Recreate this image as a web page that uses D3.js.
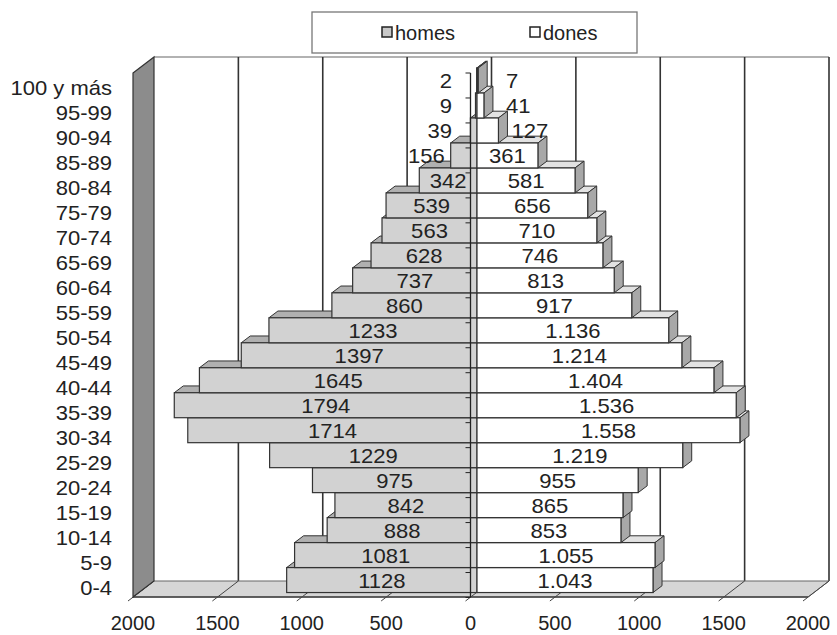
<!DOCTYPE html>
<html>
<head>
<meta charset="utf-8">
<script src="https://cdn.jsdelivr.net/npm/d3@7"></script>
<style>
  body { margin: 0; background: #fff; }
  svg text { font-family: "Liberation Sans", Arial, sans-serif; fill: #222; }
</style>
</head>
<body>
<svg id="chart" width="837" height="635"></svg>
<script>
// age groups, top to bottom
const categories = ["100 y más","95-99","90-94","85-89","80-84","75-79","70-74","65-69","60-64",
  "55-59","50-54","45-49","40-44","35-39","30-34","25-29","20-24","15-19","10-14","5-9","0-4"];
const homes = [2,9,39,156,342,539,563,628,737,860,1233,1397,1645,1794,1714,1229,975,842,888,1081,1128];
const dones = [7,41,127,361,581,656,710,746,813,917,1136,1214,1404,1536,1558,1219,955,865,853,1055,1043];
const seriesNames = ["homes","dones"];
const xTicks = [-2000,-1500,-1000,-500,0,500,1000,1500,2000];

const svg = d3.select("#chart");
const locale = d3.formatLocale({decimal:",", thousands:".", grouping:[3], currency:["","€"]});
const fmtDones = locale.format(",");

// front plane of the 3d box
const x = d3.scaleLinear().domain([-2000,2000]).range([133,808]);
const y = d3.scaleBand().domain(categories).range([73,597.5]).padding(0);
const bw = y.bandwidth();
const depth = {x:21, y:-16};           // full wall depth
const f0 = 0.31;                        // bars front position in depth
const side = {x:9, y:-6.8};             // bar thickness in depth
const bo = {x:depth.x*f0, y:depth.y*f0};
const yFront = 597;

function poly(pts) { return "M" + pts.map(p => p.join(",")).join("L") + "Z"; }

// walls
const wallL = x(-2000)+depth.x, wallR = x(2000)+depth.x, wallT = 73+depth.y, wallB = yFront+depth.y;
svg.append("rect").attr("x",wallL).attr("y",wallT).attr("width",wallR-wallL).attr("height",wallB-wallT)
   .attr("fill","#fff");
svg.append("line").attr("x1",wallL).attr("x2",wallR).attr("y1",wallT).attr("y2",wallT)
   .attr("stroke","#999").attr("stroke-width",1.5);
svg.selectAll(".grid").data(xTicks.slice(1)).enter().append("line")
   .attr("class","grid")
   .attr("x1",d => x(d)+depth.x).attr("x2",d => x(d)+depth.x)
   .attr("y1",wallT).attr("y2",wallB)
   .attr("stroke","#333").attr("stroke-width",1.6);

// floor
svg.append("path")
   .attr("d",poly([[x(-2000),yFront],[x(2000),yFront],[x(2000)+depth.x,yFront+depth.y],[x(-2000)+depth.x,yFront+depth.y]]))
   .attr("fill","#d6d6d6").attr("stroke","#666").attr("stroke-width",1);
svg.selectAll(".floorgrid").data(xTicks).enter().append("line")
   .attr("class","floorgrid")
   .attr("x1",d => x(d)-5).attr("y1",yFront+4)
   .attr("x2",d => x(d)+depth.x).attr("y2",yFront+depth.y)
   .attr("stroke","#444").attr("stroke-width",1);
svg.append("line").attr("x1",x(-2000)).attr("x2",x(2000)).attr("y1",yFront).attr("y2",yFront)
   .attr("stroke","#444").attr("stroke-width",1.5);

// left wall
svg.append("path")
   .attr("d",poly([[x(-2000),73],[x(-2000)+depth.x,wallT],[x(-2000)+depth.x,wallB],[x(-2000),yFront]]))
   .attr("fill","#8c8c8c").attr("stroke","#333").attr("stroke-width",1.2);

// bars, drawn from bottom row to top row
const rows = categories.map((c,i) => ({c, h:homes[i], d:dones[i]})).reverse();
const barG = svg.append("g");
function drawBar(g, a, b, c, front, top, sideFill, withSide) {
  const x0 = x(a)+bo.x, x1 = x(b)+bo.x, yt = y(c)+bo.y, yb = yt+bw;
  g.append("path").attr("d",poly([[x0,yt],[x1,yt],[x1+side.x,yt+side.y],[x0+side.x,yt+side.y]]))
   .attr("fill",top).attr("stroke","#333").attr("stroke-width",1);
  if(withSide) {
    g.append("path").attr("d",poly([[x1,yt],[x1+side.x,yt+side.y],[x1+side.x,yb+side.y],[x1,yb]]))
     .attr("fill",sideFill).attr("stroke","#333").attr("stroke-width",1);
  }
  g.append("rect").attr("x",x0).attr("y",yt).attr("width",Math.max(0,x1-x0)).attr("height",bw)
   .attr("fill",front).attr("stroke","#333").attr("stroke-width",1.2);
}
rows.forEach(r => {
  const g = barG.append("g");
  drawBar(g,-r.h,0,r.c,"#d2d2d2","#b0b0b0","#999",false);
  drawBar(g,0,r.d,r.c,"#ffffff","#e2e2e2","#a8a8a8",true);
});

// vertical axis with ticks
const ax = x(0);
svg.append("line").attr("x1",ax).attr("x2",ax).attr("y1",73).attr("y2",yFront)
   .attr("stroke","#222").attr("stroke-width",1.3);
const bounds = categories.map(c => y(c)).concat([y(categories[categories.length-1])+bw]);
svg.selectAll(".ytick").data(bounds).enter().append("line")
   .attr("class","ytick").attr("x1",ax-5).attr("x2",ax).attr("y1",d => d).attr("y2",d => d)
   .attr("stroke","#222").attr("stroke-width",1);

// data labels
const lblG = svg.append("g").style("font-size","21px");
function addLabel(txt, v, c, left) {
  const barLen = x(v)-x(0);
  const yc = y(c)+bo.y+bw/2+1;
  const t = lblG.append("text").text(txt).attr("dominant-baseline","central");
  const tw = t.node().getComputedTextLength()*1.05;
  let tx, anchor = "middle";
  if(barLen >= tw+6) {
    tx = left ? x(0)+bo.x-barLen/2 : x(0)+bo.x+barLen/2;
  } else if(left) {
    anchor = "end";
    tx = Math.min(x(0)+bo.x-barLen-6, 452);
  } else {
    anchor = "start";
    tx = Math.max(x(0)+bo.x+barLen+side.x+4, 506);
  }
  t.attr("text-anchor",anchor).attr("transform",`translate(${tx},${yc}) scale(1.05,1)`);
}
categories.forEach((c,i) => {
  addLabel(String(homes[i]), homes[i], c, true);
  addLabel(fmtDones(dones[i]), dones[i], c, false);
});

// category labels
svg.append("g").selectAll("text").data(categories).enter().append("text")
   .text(d => d).attr("text-anchor","end").attr("dominant-baseline","central")
   .style("font-size","20px")
   .attr("transform",d => `translate(112,${y(d)+bw/2+2.5}) scale(1.1,1)`);

// x tick labels
svg.append("g").selectAll("text").data(xTicks).enter().append("text")
   .text(d => Math.abs(d)).attr("text-anchor","middle")
   .style("font-size","20px")
   .attr("x",d => x(d)).attr("y",630);

// legend
const leg = svg.append("g");
leg.append("rect").attr("x",312).attr("y",12).attr("width",325).attr("height",41)
   .attr("fill","#fff").attr("stroke","#777").attr("stroke-width",1.3);
const legX = d3.scalePoint().domain(seriesNames).range([382,530]);
const legFill = {homes:"#c8c8c8", dones:"#ffffff"};
seriesNames.forEach(s => {
  leg.append("rect").attr("x",legX(s)).attr("y",27).attr("width",10).attr("height",10)
     .attr("fill",legFill[s]).attr("stroke","#222").attr("stroke-width",1.5);
  leg.append("text").text(s).attr("x",legX(s)+13).attr("y",39.5).style("font-size","20px");
});
</script>
</body>
</html>
